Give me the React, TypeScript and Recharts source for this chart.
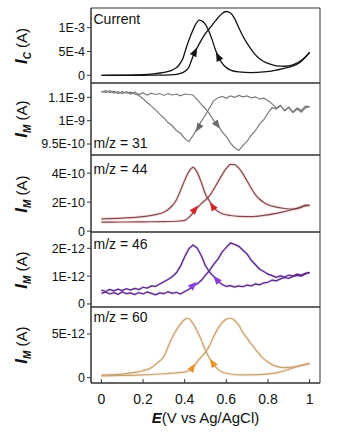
import React from 'react';
import { ComposedChart, Line, XAxis, YAxis, ReferenceArea } from 'recharts';

type Pt = [number, number];

const FONT = '"Liberation Sans", Arial, sans-serif';
const AX = '#333';
const PAD = 8;

const X_TICKS = [0, 0.2, 0.4, 0.6, 0.8, 1];
const X_TICK_LABELS = ['0', '0.2', '0.4', '0.6', '0.8', '1'];
const E_GRID = Array.from({ length: 51 }, (_, i) => Math.round(i * 2) / 100);

// Panel 1: current (units 1e-4 A)
const currentForward: Pt[] = [[0,0],[0.1,0],[0.2,0.01],[0.3,0.05],[0.35,0.15],[0.38,0.4],[0.4,0.8],[0.42,1.7],[0.43,2.8],[0.44,4.0],[0.45,5.0],[0.46,5.8],[0.48,7.4],[0.5,8.8],[0.52,9.9],[0.54,11.0],[0.56,12.1],[0.58,13.0],[0.6,13.4],[0.62,13.1],[0.64,11.9],[0.66,10.0],[0.68,8.2],[0.7,6.7],[0.72,5.4],[0.74,4.3],[0.76,3.5],[0.78,2.9],[0.8,2.5],[0.84,2.0],[0.88,1.9],[0.92,2.2],[0.96,3.1],[1.0,4.8]];
const currentReverse: Pt[] = [[0,0],[0.1,0.02],[0.2,0.12],[0.25,0.3],[0.3,0.6],[0.34,1.1],[0.37,2.0],[0.39,3.4],[0.41,6.1],[0.43,8.5],[0.45,10.5],[0.47,11.6],[0.49,11.2],[0.51,9.9],[0.53,7.7],[0.55,5.1],[0.57,3.2],[0.59,2.0],[0.62,1.1],[0.66,0.7],[0.72,0.55],[0.78,0.7],[0.84,1.1],[0.9,1.7],[0.95,2.6],[1.0,4.8]];
const currentArrows: Pt[] = [[0.449, 4.9], [0.561, 3.9]];
const currentTicks = [0, 5, 10];
const currentTickLabels = ['0', '5E-4', '1E-3'];

// Panel 2: m/z 31 (units 1e-9 A)
const mz31ForwardV = [1.063,1.060,1.064,1.059,1.062,1.058,1.062,1.057,1.061,1.056,1.060,1.055,1.059,1.056,1.058,1.054,1.058,1.055,1.057,1.053,1.057,1.056,1.055,1.045,1.035,1.025,1.014,1.000,0.990,0.976,0.966,0.952,0.942,0.936,0.947,0.956,0.969,0.979,0.993,1.002,1.016,1.028,1.025,1.032,1.022,1.029,1.019,1.027,1.022,1.031,1.030];
const mz31ReverseV = [1.061,1.064,1.060,1.063,1.058,1.062,1.059,1.061,1.057,1.054,1.047,1.039,1.031,1.023,1.014,1.006,0.996,0.989,0.979,0.973,0.962,0.955,0.968,0.983,0.999,1.012,1.028,1.043,1.049,1.052,1.048,1.053,1.050,1.054,1.051,1.053,1.049,1.051,1.046,1.048,1.043,1.036,1.027,1.033,1.021,1.028,1.017,1.025,1.018,1.027,1.030];
const mz31Arrows: Pt[] = [[0.556, 0.991], [0.466, 0.985]];
const mz31Ticks = [0.95, 1.0, 1.05];
const mz31TickLabels = ['9.5E-10', '1E-9', '1.1E-9'];

// Panel 3: m/z 44 (units 1e-10 A)
const mz44Forward: Pt[] = [[0,0.62],[0.1,0.63],[0.2,0.64],[0.3,0.66],[0.36,0.68],[0.4,0.74],[0.42,0.95],[0.44,1.25],[0.46,1.6],[0.48,1.9],[0.5,2.15],[0.52,2.45],[0.54,2.9],[0.56,3.4],[0.58,3.9],[0.6,4.32],[0.62,4.6],[0.64,4.58],[0.66,4.35],[0.68,3.95],[0.7,3.45],[0.72,2.95],[0.74,2.5],[0.76,2.2],[0.78,1.98],[0.8,1.82],[0.84,1.66],[0.88,1.56],[0.92,1.52],[0.96,1.64],[0.98,1.8],[1.0,1.78]];
const mz44Reverse: Pt[] = [[0,0.85],[0.1,0.9],[0.2,1.0],[0.26,1.14],[0.3,1.3],[0.34,1.75],[0.36,2.15],[0.38,2.8],[0.4,3.5],[0.42,4.1],[0.44,4.4],[0.46,4.05],[0.48,3.35],[0.5,2.55],[0.52,2.05],[0.54,1.6],[0.56,1.35],[0.58,1.2],[0.62,1.08],[0.66,1.02],[0.72,1.0],[0.78,1.08],[0.84,1.22],[0.9,1.42],[0.94,1.58],[0.97,1.72],[1.0,1.78]];
const mz44Arrows: Pt[] = [[0.449, 1.5], [0.534, 1.72]];
const mz44Ticks = [0, 2, 4];
const mz44TickLabels = ['0', '2E-10', '4E-10'];

// Panel 4: m/z 46 (units 1e-12 A)
const mz46ForwardV = [0.38,0.43,0.36,0.41,0.35,0.43,0.37,0.40,0.34,0.41,0.36,0.43,0.38,0.33,0.40,0.37,0.44,0.38,0.42,0.36,0.45,0.52,0.66,0.72,0.85,1.04,1.21,1.43,1.61,1.87,2.03,2.19,2.14,2.07,1.93,1.79,1.57,1.41,1.25,1.17,1.07,1.02,0.96,1.01,0.97,1.04,1.00,1.07,1.04,1.10,1.13];
const mz46ReverseV = [0.50,0.45,0.52,0.47,0.53,0.48,0.55,0.50,0.56,0.52,0.60,0.57,0.65,0.63,0.72,0.80,0.88,0.98,1.12,1.36,1.70,1.98,2.12,2.01,1.73,1.37,1.14,0.98,0.82,0.70,0.63,0.66,0.61,0.65,0.62,0.68,0.65,0.72,0.69,0.76,0.78,0.86,0.83,0.90,0.95,0.92,0.99,1.03,1.00,1.08,1.13];
const mz46Arrows: Pt[] = [[0.441, 0.67], [0.553, 0.88]];
const mz46Ticks = [0, 1, 2];
const mz46TickLabels = ['0', '1E-12', '2E-12'];

// Panel 5: m/z 60 (units 1e-12 A)
const mz60Forward: Pt[] = [[0,0.2],[0.1,0.25],[0.2,0.32],[0.3,0.45],[0.36,0.55],[0.4,0.66],[0.42,0.82],[0.44,1.2],[0.46,1.8],[0.48,2.4],[0.5,2.92],[0.52,3.7],[0.54,4.75],[0.56,5.65],[0.58,6.3],[0.6,6.7],[0.62,6.8],[0.64,6.55],[0.66,6.0],[0.68,5.15],[0.7,4.5],[0.72,3.85],[0.74,3.25],[0.76,2.65],[0.78,2.15],[0.8,1.8],[0.82,1.5],[0.84,1.3],[0.88,1.15],[0.92,1.2],[0.96,1.4],[1.0,1.64]];
const mz60Reverse: Pt[] = [[0,0.3],[0.1,0.42],[0.16,0.6],[0.2,0.8],[0.24,1.15],[0.27,1.7],[0.3,2.45],[0.32,3.5],[0.34,4.6],[0.36,5.45],[0.38,6.15],[0.4,6.65],[0.41,6.8],[0.42,6.75],[0.44,6.2],[0.46,5.35],[0.48,4.3],[0.5,3.1],[0.52,2.2],[0.54,1.5],[0.56,0.95],[0.58,0.65],[0.62,0.42],[0.66,0.32],[0.72,0.33],[0.78,0.39],[0.84,0.55],[0.9,0.95],[0.95,1.35],[1.0,1.64]];
const mz60Arrows: Pt[] = [[0.438, 1.15], [0.534, 1.7]];
const mz60Ticks = [0, 5];
const mz60TickLabels = ['0', '5E-12'];

const onGrid = (vals: number[]): Pt[] => vals.map((v, i) => [E_GRID[i], v]);
const toObj = (pts: Pt[]) => pts.map(([E, v]) => ({ E, v }));

interface PanelProps {
  top: number;
  plotHeight: number;
  domain: [number, number];
  yTicks: number[];
  yLabels: string[];
  forward: Pt[];
  reverse: Pt[];
  arrows: Pt[];
  arrowAngles: number[];
  color: string;
  arrowColor: string;
  halo?: string;
  haloWidth?: number;
  haloOpacity?: number;
  curve: 'monotone' | 'linear';
  strokeWidth: number;
  bottom?: boolean;
}

function Panel(p: PanelProps) {
  const xAxisH = p.bottom ? 50 : 0;
  const padBottom = p.bottom ? 0 : PAD;
  const h = PAD + p.plotHeight + xAxisH + padBottom;
  const fwd = toObj(p.forward);
  const rev = toObj(p.reverse);
  const arr = toObj(p.arrows);
  const arrowDot = (props: any) => {
    const { cx, cy, index } = props;
    if (cx == null || cy == null) return <g key={`n${index}`} />;
    return (
      <path
        key={`ar${index}`}
        d="M5,0 L-4,-3.6 L-4,3.6 Z"
        fill={p.arrowColor}
        transform={`translate(${cx},${cy}) rotate(${p.arrowAngles[index]})`}
      />
    );
  };
  return (
    <div style={{ position: 'absolute', left: 0, top: p.top - PAD, width: 354, height: h }}>
      <ComposedChart width={354} height={h} margin={{ top: PAD, right: 34, bottom: padBottom, left: 0 }}>
        <XAxis
          dataKey="E"
          type="number"
          domain={[-0.05, 1.05]}
          ticks={X_TICKS}
          interval={0}
          allowDataOverflow
          height={xAxisH}
          tick={p.bottom ? { fontSize: 14, fill: '#111', fontFamily: FONT } : false}
          tickFormatter={(v: number) => X_TICK_LABELS[X_TICKS.indexOf(v)]}
          tickSize={-4}
          tickMargin={15}
          axisLine={{ stroke: AX }}
          tickLine={{ stroke: AX }}
        />
        <YAxis
          type="number"
          domain={p.domain}
          ticks={p.yTicks}
          interval={0}
          allowDataOverflow
          width={91}
          tick={{ fontSize: 12.5, fill: '#111', fontFamily: FONT }}
          tickFormatter={(v: number) => p.yLabels[p.yTicks.indexOf(v)]}
          tickSize={4}
          tickMargin={2}
          axisLine={{ stroke: AX }}
          tickLine={{ stroke: AX }}
        />
        <ReferenceArea
          x1={-0.05}
          x2={1.05}
          y1={p.domain[0]}
          y2={p.domain[1]}
          fill="none"
          stroke={AX}
          strokeWidth={1}
          ifOverflow="visible"
        />
        {p.halo && (
          <Line data={fwd} dataKey="v" type={p.curve} stroke={p.halo} strokeWidth={p.haloWidth} strokeOpacity={p.haloOpacity} dot={false} activeDot={false} isAnimationActive={false} />
        )}
        {p.halo && (
          <Line data={rev} dataKey="v" type={p.curve} stroke={p.halo} strokeWidth={p.haloWidth} strokeOpacity={p.haloOpacity} dot={false} activeDot={false} isAnimationActive={false} />
        )}
        <Line data={fwd} dataKey="v" type={p.curve} stroke={p.color} strokeWidth={p.strokeWidth} dot={false} activeDot={false} isAnimationActive={false} />
        <Line data={rev} dataKey="v" type={p.curve} stroke={p.color} strokeWidth={p.strokeWidth} dot={false} activeDot={false} isAnimationActive={false} />
        <Line data={arr} dataKey="v" stroke="none" strokeWidth={0} dot={arrowDot} activeDot={false} isAnimationActive={false} />
      </ComposedChart>
    </div>
  );
}

function YLabel({ cy, sub }: { cy: number; sub: string }) {
  return (
    <div
      style={{
        position: 'absolute',
        left: 23,
        top: cy,
        transform: 'translate(-50%,-50%) rotate(-90deg)',
        whiteSpace: 'nowrap',
        fontSize: 15,
        lineHeight: '18px',
        color: '#111',
      }}
    >
      <span style={{ fontWeight: 'bold', fontStyle: 'italic', fontSize: 17 }}>I</span>
      <span style={{ fontWeight: 'bold', fontStyle: 'italic', fontSize: 10, position: 'relative', top: 4 }}>{sub}</span>
      <span> (A)</span>
    </div>
  );
}

function PanelLabel({ cy, text }: { cy: number; text: string }) {
  return (
    <div style={{ position: 'absolute', left: 93.5, top: cy - 8, fontSize: 14, lineHeight: '16px', color: '#111', whiteSpace: 'nowrap' }}>
      {text}
    </div>
  );
}

export default function App() {
  return (
    <div style={{ position: 'absolute', left: 0, top: 0, width: 354, height: 433, background: '#fff', fontFamily: FONT, overflow: 'hidden' }}>
      <Panel
        top={8}
        plotHeight={75}
        domain={[-1.62, 14.14]}
        yTicks={currentTicks}
        yLabels={currentTickLabels}
        forward={currentForward}
        reverse={currentReverse}
        arrows={currentArrows}
        arrowAngles={[-64, -116]}
        color="#111"
        arrowColor="#111"
        curve="monotone"
        strokeWidth={1.3}
      />
      <Panel
        top={83}
        plotHeight={72}
        domain={[0.9265, 1.0806]}
        yTicks={mz31Ticks}
        yLabels={mz31TickLabels}
        forward={onGrid(mz31ForwardV)}
        reverse={onGrid(mz31ReverseV)}
        arrows={mz31Arrows}
        arrowAngles={[53, 121]}
        color="#7a7a7a"
        arrowColor="#6a6a6a"
        curve="linear"
        strokeWidth={1.2}
      />
      <Panel
        top={155}
        plotHeight={77}
        domain={[-0.06, 5.25]}
        yTicks={mz44Ticks}
        yLabels={mz44TickLabels}
        forward={mz44Forward}
        reverse={mz44Reverse}
        arrows={mz44Arrows}
        arrowAngles={[-50, -122]}
        color="#7e4a50"
        arrowColor="#d8262a"
        halo="#f4a3a3"
        haloWidth={3.2}
        haloOpacity={0.3}
        curve="monotone"
        strokeWidth={1.2}
      />
      <Panel
        top={232}
        plotHeight={75}
        domain={[-0.108, 2.585]}
        yTicks={mz46Ticks}
        yLabels={mz46TickLabels}
        forward={onGrid(mz46ForwardV)}
        reverse={onGrid(mz46ReverseV)}
        arrows={mz46Arrows}
        arrowAngles={[-45, -130]}
        color="#55297f"
        arrowColor="#8a3fd8"
        halo="#9b4de0"
        haloWidth={2.4}
        haloOpacity={0.35}
        curve="linear"
        strokeWidth={1.2}
      />
      <Panel
        top={307}
        plotHeight={76}
        domain={[-0.606, 8.09]}
        yTicks={mz60Ticks}
        yLabels={mz60TickLabels}
        forward={mz60Forward}
        reverse={mz60Reverse}
        arrows={mz60Arrows}
        arrowAngles={[-55, -124]}
        color="#c2a27a"
        arrowColor="#e9952f"
        halo="#f8c88a"
        haloWidth={3.2}
        haloOpacity={0.3}
        curve="monotone"
        strokeWidth={1.2}
        bottom
      />
      <YLabel cy={45.5} sub="C" />
      <YLabel cy={119} sub="M" />
      <YLabel cy={193.5} sub="M" />
      <YLabel cy={269.5} sub="M" />
      <YLabel cy={345} sub="M" />
      <PanelLabel cy={19} text="Current" />
      <PanelLabel cy={143.3} text="m/z = 31" />
      <PanelLabel cy={169} text="m/z = 44" />
      <PanelLabel cy={244} text="m/z = 46" />
      <PanelLabel cy={316.7} text="m/z = 60" />
      <div style={{ position: 'absolute', left: 205.5, top: 418, transform: 'translate(-50%,-50%)', fontSize: 15, lineHeight: '18px', whiteSpace: 'nowrap', color: '#111' }}>
        <span style={{ fontWeight: 'bold', fontStyle: 'italic' }}>E</span>(V vs Ag/AgCl)
      </div>
    </div>
  );
}
